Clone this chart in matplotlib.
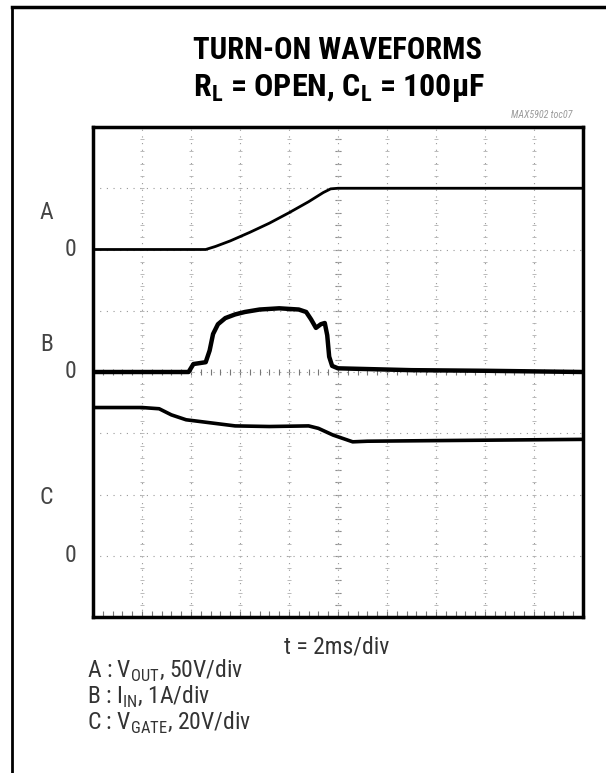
import numpy as np
import matplotlib.pyplot as plt
from matplotlib.lines import Line2D
from matplotlib import font_manager as fm

## trace data (x in divisions 0..10, y in divisions 0..8 from bottom)
a_x = [0.0, 2.3, 2.5, 2.8, 3.2, 3.6, 4.0, 4.4, 4.7, 4.85, 5.0, 7.0, 10.0]
a_y = [6.0, 6.0, 6.05, 6.14, 6.28, 6.43, 6.6, 6.78, 6.93, 6.99, 7.0, 7.0, 7.0]

b_x = [0.0, 1.0, 1.95, 2.05, 2.3, 2.38, 2.45, 2.55, 2.7, 2.9, 3.1, 3.4, 3.8,
       4.2, 4.35, 4.45, 4.55, 4.65, 4.73, 4.78, 4.82, 4.88, 5.0, 5.5, 6.5, 8.0, 10.0]
b_y = [4.0, 4.0, 4.0, 4.13, 4.16, 4.35, 4.62, 4.78, 4.88, 4.94, 4.98, 5.02, 5.04,
       5.02, 4.98, 4.86, 4.72, 4.78, 4.8, 4.6, 4.25, 4.1, 4.06, 4.05, 4.03, 4.02, 4.0]

c_x = [0.0, 1.0, 1.35, 1.6, 1.9, 2.3, 2.9, 3.6, 4.4, 4.6, 4.9, 5.3, 5.6, 7.0, 10.0]
c_y = [3.42, 3.42, 3.4, 3.3, 3.22, 3.18, 3.12, 3.11, 3.12, 3.08, 2.97, 2.86, 2.87, 2.88, 2.9]

ch_names = ['A', 'B', 'C']
zero_levels = [6, 4, 1]
label_levels = [6.6, 4.45, 1.95]
legend_lines = [r'A : V$_{\mathregular{OUT}}$, 50V/div',
                r'B : I$_{\mathregular{IN}}$, 1A/div',
                r'C : V$_{\mathregular{GATE}}$, 20V/div']

## pick a narrow font if one is installed
have = {}
for f in fm.fontManager.ttflist:
    w = f.weight if isinstance(f.weight, int) else 400
    have.setdefault(f.name, set()).add(w)
cands = ['Roboto Condensed', 'Archivo Narrow', 'PT Sans Narrow', 'Liberation Sans Narrow',
         'Encode Sans Condensed', 'Pragati Narrow', 'Open Sans Condensed', 'Liberation Sans']
reg_font = next((c for c in cands if c in have), 'DejaVu Sans')
bold_font = next((c for c in cands if c in have and max(have[c]) >= 700), 'DejaVu Sans')
plt.rcParams['font.family'] = [reg_font, 'DejaVu Sans']

W, H = 606, 773
fig = plt.figure(figsize=(W/100, H/100), dpi=100)
ax = fig.add_axes([93/W, 1-617/H, 490/W, 490/H])
ax.set_xlim(0, 10)
ax.set_ylim(0, 8)
ax.set_xticks([])
ax.set_yticks([])
for s in ax.spines.values():
    s.set_linewidth(2.5)

# graticule
for gx in range(1, 10):
    ax.axvline(gx, color='#999999', lw=0.8, ls=(0, (1, 5)), zorder=1)
for gy in range(1, 8):
    ax.axhline(gy, color='#999999', lw=0.8, ls=(0, (1, 5)), zorder=1)
mx = np.arange(0, 10.01, 0.2)
my = np.arange(0, 8.01, 0.2)
ax.plot(np.full_like(my, 5.0), my, ls='none', marker='_', ms=5, color='#777777', mew=0.8)
ax.plot(mx, np.full_like(mx, 4.0), ls='none', marker='|', ms=5, color='#777777', mew=0.8)
ax.plot(mx, np.full_like(mx, 0.05), ls='none', marker='|', ms=5, color='#777777', mew=0.8)
for gx in range(1, 10):
    ax.plot(np.full_like(my, gx), my, ls='none', marker='_', ms=2.5, color='#b0b0b0', mew=0.6)

ax.plot(a_x, a_y, color='black', lw=2.0, zorder=3)
ax.plot(b_x, b_y, color='black', lw=3.2, zorder=3)
ax.plot(c_x, c_y, color='black', lw=2.6, zorder=3)

# channel labels
for name, z, ly in zip(ch_names, zero_levels, label_levels):
    ax.text(-0.95, ly, name, ha='center', va='center', fontsize=17,
            color='#444444', clip_on=False)
    ax.text(-0.45, z, '0', ha='center', va='center', fontsize=17,
            color='#444444', clip_on=False)

texts = []
t1 = fig.text(337/W, 1-50/H, 'TURN-ON WAVEFORMS', ha='center', va='center',
              fontsize=20, fontweight='bold', family=[bold_font, 'DejaVu Sans'])
texts.append((t1, 289))
t2 = fig.text(339/W, 1-88/H, r'R$_{\mathregular{L}}$ = OPEN, C$_{\mathregular{L}}$ = 100µF',
              ha='center', va='center', fontsize=20, fontweight='bold',
              family=[bold_font, 'DejaVu Sans'])
texts.append((t2, 292))
t3 = fig.text(542/W, 1-115/H, 'MAX5902 toc07', ha='center', va='center',
              fontsize=6, color='#999999', style='italic')
texts.append((t3, 62))
fig.text(337/W, 1-647/H, 't = 2ms/div', ha='center', va='center',
         fontsize=17, color='#333333')
for i, t in enumerate(legend_lines):
    fig.text(87/W, 1-(671+26*i)/H, t, ha='left', va='center',
             fontsize=17, color='#333333')

# scale title font sizes so text widths match the layout
fig.canvas.draw()
r = fig.canvas.get_renderer()
for t, target in texts:
    wpx = t.get_window_extent(r).width
    t.set_fontsize(t.get_fontsize() * target / wpx)

# outer frame (left and top only)
fig.add_artist(Line2D([12/W, 12/W], [0, 1-7/H], transform=fig.transFigure, color='black', lw=2))
fig.add_artist(Line2D([12/W, 1], [1-7/H, 1-7/H], transform=fig.transFigure, color='black', lw=2.5))

fig.savefig('out.png', dpi=100)
